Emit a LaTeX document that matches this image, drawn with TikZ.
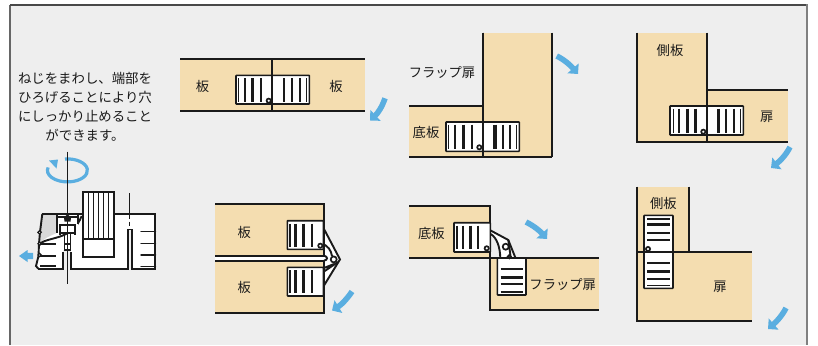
\documentclass[tikz,border=0pt]{standalone}
\usepackage{fontspec}
\setmainfont{Noto Sans CJK JP}
\usetikzlibrary{arrows.meta}
\definecolor{panelbg}{HTML}{EEEEEE}
\definecolor{wood}{HTML}{F4DDB0}
\definecolor{flow}{HTML}{5AAEE0}
\definecolor{ink}{HTML}{1A1A1A}
\definecolor{framec}{HTML}{666666}
\tikzset{
  x=1pt,y=-1pt,
  woodfill/.style={fill=wood,draw=none},
  edge/.style={draw=ink,line width=1.9pt},
  latchbox/.style={fill=white,draw=ink,line width=1.6pt,rounded corners=0.6pt},
  bar/.style={draw=ink,line width=#1},
  pivot/.style={fill=white,draw=ink,line width=1.7pt},
  flowarrow/.style={draw=flow,line width=5.6pt,-{Triangle[length=7.5pt,width=14.5pt]}},
  lbl/.style={text=ink,font=\fontsize{13.3}{15}\selectfont,inner sep=0pt},
  note/.style={text=ink,font=\fontsize{13.4}{19.1}\selectfont,inner sep=0pt,align=center},
  thin line/.style={draw=ink,line width=1pt},
}
\newcommand{\vbars}[3]{\foreach \bx/\bw in {#3}{\draw[bar=\bw pt] (\bx,#1) -- (\bx,#2);}}
\newcommand{\hbars}[3]{\foreach \by/\bw in {#3}{\draw[bar=\bw pt] (#1,\by) -- (#2,\by);}}
\begin{document}
\begin{tikzpicture}
\useasboundingbox (0,0) rectangle (818,345);
\fill[white] (0,0) rectangle (818,345);
\fill[panelbg] (10,5) rectangle (807,345);
\draw[draw=framec,line width=1.4pt] (10,345) -- (10,5);
\draw[draw=ink!80,line width=1.2pt] (10,5) -- (807,5);
\draw[draw=gray,line width=2pt] (807,4.5) -- (807,345);

% note text
\node[note] (note) at (85,106.5) {ねじをまわし、端部を\\ひろげることにより穴\\にしっかり止めること\\ができます。};

% ---------- screw figure
\draw[draw=flow,line width=3.2pt] (65,159) arc[start angle=-97,end angle=195,x radius=20,y radius=11.5];
\fill[flow] (49,160.5) -- (58,159.5) -- (56.5,168.5) -- cycle;
% body
\fill[white] (42.3,214) -- (154.7,214) -- (154.7,268.7) -- (38,268.7) -- (38,255) -- (40,232) -- cycle;
\fill[panelbg] (63.3,250) rectangle (70.7,270);
\fill[panelbg] (127.7,229.5) rectangle (132.3,270);
\fill[gray!30] (42.3,214) -- (56.7,214) -- (56.7,233) .. controls (50,236) and (44,238) .. (40,243.5) -- (40,232) -- cycle;
\draw[edge] (42.3,214) -- (83.3,214) (114,214) -- (154.7,214) -- (154.7,268.7) -- (132.3,268.7) -- (132.3,229.5) -- (127.7,229.5) -- (127.7,268.7) -- (70.7,268.7) -- (70.7,252);
\draw[edge] (63.3,252) -- (63.3,268.7) -- (38.3,268.7);
\draw[edge] (42.3,214) -- (40,232) -- (39,243.7) -- (38.5,256) -- (36,266) -- (38.3,268.7);
\draw[edge] (39.5,243.5) .. controls (52,236) and (72,240) .. (81.7,216);
\foreach \fy in {231.7,243.7,255,266.7}{\draw[draw=ink,line width=1.5pt,line cap=round] (141,\fy) -- (155.5,\fy);}
\foreach \fy in {244,256,266}{\draw[draw=ink,line width=1.5pt] (40,\fy) -- (56,\fy);}
\foreach \cy in {232.3,243.7,255}{\fill[panelbg,draw=ink,line width=1.2pt] (39.6,\cy) circle[radius=1.7];}
% screw head and shaft
\fill[white] (57,215) rectangle (78,233);
\draw[draw=ink,line width=1.6pt] (57,214.5) -- (57,233) (78,214.5) -- (78,224);
\draw[draw=ink,line width=2pt] (58,217) -- (78,217) (59,225) -- (76,225) (60,233) -- (75,233);
\draw[draw=ink,line width=1.5pt] (60,225) -- (60,235) (75,225) -- (75,235);
\fill[ink] (64,217.5) -- (67.5,214) -- (71,217.5) -- (70.5,221.5) -- (64.5,221.5) -- cycle;
\draw[draw=ink,line width=1.3pt] (64.3,233) -- (64.3,250) (70.7,233) -- (70.7,250);
\draw[draw=ink,line width=1.5pt] (64.3,244) -- (70.7,244) (64.3,250) -- (70.7,250);
% knob with stripes
\fill[white] (83.3,192.3) rectangle (114,256.7);
\draw[edge] (83.3,192.3) rectangle (114,256.7);
\draw[edge] (83.3,239) -- (114,239);
\foreach \sx in {88.4,93.5,98.6,103.7,108.8}{\draw[thin line,line width=1.1pt] (\sx,192.3) -- (\sx,239);}
% axes
\draw[thin line] (67.5,151.7) -- (67.5,214);
\draw[thin line] (67.5,221) -- (67.5,284);
\draw[thin line] (129.7,193) -- (129.7,219) (129.7,221.5) -- (129.7,226);
% left push arrow
\fill[flow] (19,256) -- (27.5,250) -- (27.5,252.8) -- (33,252.8) -- (33,259.2) -- (27.5,259.2) -- (27.5,262) -- cycle;

% ---------- panel 1: flat, closed
\fill[woodfill] (180,59) rectangle (365,110.7);
\draw[edge] (180,59) -- (365,59) (180,110.7) -- (365,110.7);
\draw[latchbox] (236,75.3) rectangle (309.3,104);
\vbars{78}{101.5}{238.3/1.5,244.7/2.2,252.7/3.2,260.7/2.2,284/2.2,292/2.8,300/2.2,306.3/1.5}
\draw[edge] (272.3,59) -- (272.3,110.7);
\draw[pivot] (268.7,100.7) circle[radius=2.1];
\node[lbl] (p1a) at (202.5,86) {板};
\node[lbl] (p1b) at (336,86) {板};
\draw[flowarrow] (385,98.3) .. controls (382,107) and (378,113) .. (370,120.5);

% ---------- panel 2: flap upright
\fill[woodfill] (409,106) rectangle (482.7,157.3);
\fill[woodfill] (482.7,32.7) rectangle (552,157.3);
\draw[edge] (482.7,32.7) -- (482.7,157.3) (552,32.7) -- (552,157.3) (409,106) -- (482.7,106) (409,157.3) -- (552,157.3);
\draw[latchbox] (446,122) rectangle (519.3,151.3);
\vbars{124.5}{149}{448.3/1.5,455/2.2,463.3/3.2,471.7/2.2,495/3.2,503.3/2.2,510/2.2,516.7/1.5}
\draw[edge] (482.7,32.7) -- (482.7,157.3);
\draw[pivot] (479.3,147.3) circle[radius=2.1];
\node[lbl] (p2a) at (442,72.7) {フラップ扉};
\node[lbl] (p2b) at (426,132.7) {底板};
\draw[flowarrow] (556.7,56) .. controls (565,60) and (571,66) .. (578,74);

% ---------- panel 3: side and door
\fill[woodfill] (637.3,32.7) rectangle (706.7,141.7);
\fill[woodfill] (706.7,90) rectangle (788.3,141.7);
\draw[edge] (637.3,32.7) -- (637.3,141.7) -- (788.3,141.7) (706.7,32.7) -- (706.7,141.7) (706.7,90) -- (788.3,90);
\draw[latchbox] (670,106) rectangle (743.3,135);
\vbars{108.5}{132.5}{673.3/1.5,679.3/2.2,687.3/2.8,695.3/2.8,718.3/2.8,726/2.2,734/2.8,740.7/1.5}
\draw[edge] (706.7,90) -- (706.7,141.7);
\draw[pivot] (703.3,131.7) circle[radius=2.1];
\node[lbl] (p3a) at (670,50) {側板};
\node[lbl] (p3b) at (766.7,116.7) {扉};
\draw[flowarrow] (790,147) .. controls (786,155) and (780,161) .. (771,168);

% ---------- panel 4: open flat with hinge
\fill[woodfill] (215,204) rectangle (324,255.7);
\fill[woodfill] (215,260.7) rectangle (324,312.7);
\fill[white] (215,255.7) rectangle (324,260.7);
% hinge
\fill[white] (324,229) -- (340,259.4) -- (324,285.5) -- cycle;
\draw[edge] (324,229) -- (340,259.4) -- (324,285.5);
\draw[edge] (215,204) -- (324,204) -- (324,255.7) -- (215,255.7);
\draw[edge] (215,260.7) -- (324,260.7) -- (324,312.7) -- (215,312.7);
\draw[edge] (324,255.7) .. controls (328,256.5) and (328,260) .. (324,260.7);
\draw[edge] (322,243.5) .. controls (328,246) and (331,250) .. (332,256);
\draw[edge] (324,268) -- (334,264) (324,271.5) -- (338,262);
\draw[latchbox] (287.3,220.7) rectangle (323.5,249.3);
\draw[latchbox] (287.3,267.3) rectangle (323.5,296);
\vbars{223.5}{246.5}{289.8/1.5,295.5/2.2,303.5/3,311.7/2.2}
\vbars{270}{293}{289.8/1.5,295.5/2.2,303.5/3,311.7/2.2}
\draw[edge] (324,229) -- (324,255.7) (324,260.7) -- (324,312.7);
\draw[pivot] (320.3,245.7) circle[radius=2.1];
\draw[pivot] (333.7,259.4) circle[radius=3];
\node[lbl] (p4a) at (244.3,232.5) {板};
\node[lbl] (p4b) at (244.3,287.7) {板};
\draw[flowarrow] (352,291.5) .. controls (347,299) and (341,305) .. (332,310.5);

% ---------- panel 5: flap down
\fill[woodfill] (409,206) rectangle (490.3,258);
\fill[woodfill] (490.3,258) rectangle (599,310);
\draw[edge] (409,206) -- (490.3,206) -- (490.3,310) -- (599,310) (409,258) -- (599,258);
% hinge
\fill[white] (490.3,230.3) -- (508.3,240) -- (515.5,258) -- (500,258) .. controls (499.5,248) and (497,240) .. (490.3,235) -- cycle;
\draw[edge] (490.3,230.3) -- (508.3,240) -- (515.5,258);
\draw[edge] (490.8,234) .. controls (497,238) and (500,247) .. (500.3,258);
\draw[edge] (508.3,240) -- (510.8,258);
\draw[latchbox] (454,222.7) rectangle (490.3,252);
\draw[latchbox] (497.3,258) rectangle (526,295);
\vbars{225.5}{249}{456.7/1.8,463.3/2.2,470.7/3,478.3/2.2}
\hbars{500.7}{522.7}{269.3/1.8,277.3/3.2,284.3/2.2,291.7/1.8}
\draw[pivot] (486.7,248.3) circle[radius=2.1];
\draw[pivot] (505.7,246.7) circle[radius=3];
\draw[pivot] (509.3,256.7) circle[radius=1.6];
\node[lbl] (p5a) at (431.3,233.3) {底板};
\node[lbl] (p5b) at (562.7,285) {フラップ扉};
\draw[flowarrow] (526,222) .. controls (534,226) and (540,231) .. (547,239);

% ---------- panel 6: side and door, vertical latch
\fill[woodfill] (637.3,186.7) rectangle (689.3,251.7);
\fill[woodfill] (637.3,251.7) rectangle (751.7,321);
\draw[edge] (637.3,186.7) -- (637.3,321) -- (751.7,321) (689.3,186.7) -- (689.3,251.7) (637.3,251.7) -- (751.7,251.7);
\draw[latchbox] (644,215.3) rectangle (673,288.3);
\hbars{647.3}{670}{219/1.5,224.3/3.2,232.7/2.2,240.3/2.2,262.7/2.2,271.7/3.2,279.3/2.2,285.7/1.5}
\draw[edge] (644,251.7) -- (673,251.7);
\draw[pivot] (648,249) circle[radius=2.1];
\node[lbl] (p6a) at (663.3,203.3) {側板};
\node[lbl] (p6b) at (720,287.3) {扉};
\draw[flowarrow] (786,308) .. controls (782,316) and (776,322) .. (768,329);
\end{tikzpicture}
\end{document}
